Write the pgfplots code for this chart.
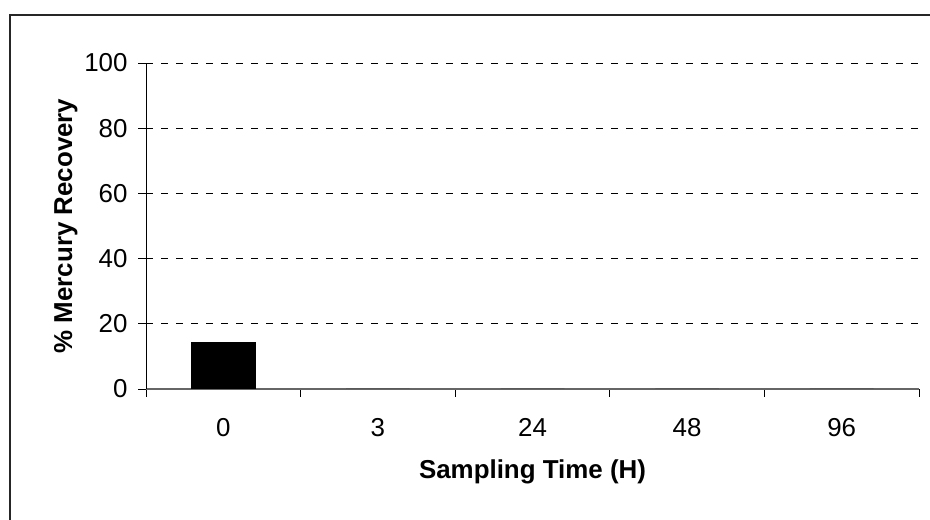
\documentclass[border=0pt]{standalone}
\usepackage{fontspec}
\setmainfont{Liberation Sans}
\usepackage{pgfplots}
\pgfplotsset{compat=1.18}
\begin{document}
\begin{tikzpicture}[x=1bp,y=1bp]
\useasboundingbox (0,0) rectangle (930,520);
\draw[line width=1.5bp, black!85] (10,-5) -- (10,505) -- (935,505);
\begin{axis}[
  at={(146bp,131bp)}, anchor=south west,
  scale only axis, width=773bp, height=326bp,
  xmin=-0.5, xmax=4.5, ymin=0, ymax=100,
  axis x line*=bottom, axis y line*=left,
  x axis line style={gray!80!black, line width=1.2bp, -},
  y axis line style={black, line width=0.8bp, -},
  xtick={-0.5,0.5,1.5,2.5,3.5,4.5},
  xticklabels={},
  extra x ticks={0,1,2,3,4},
  extra x tick labels={0,3,24,48,96},
  extra x tick style={major tick length=0bp, grid=none},
  xticklabel style={yshift=-26bp},
  ytick={0,20,40,60,80,100},
  tick align=outside,
  major tick length=8bp,
  tick style={black, line width=0.8bp},
  ymajorgrids,
  grid style={black, line width=0.7bp, dash pattern=on 7bp off 8bp},
  /pgf/number format/assume math mode=true,
  tick label style={font=\fontsize{26}{30}\selectfont},
  yticklabel style={xshift=-7bp},
  xlabel={\bfseries Sampling Time (H)},
  ylabel={\bfseries \% Mercury Recovery},
  label style={font=\fontsize{26}{30}\selectfont},
  xlabel style={yshift=-8bp},
  ylabel style={yshift=0bp},
]
\addplot[ybar, bar width=63.6bp, fill=black, draw=black, line width=0.5bp]
  coordinates {(0,14.2)};
\addplot[ybar, bar width=63.6bp, fill=black, draw=none]
  coordinates {(1,0) (2,0) (3,0) (4,0)};
\end{axis}
\end{tikzpicture}
\end{document}
